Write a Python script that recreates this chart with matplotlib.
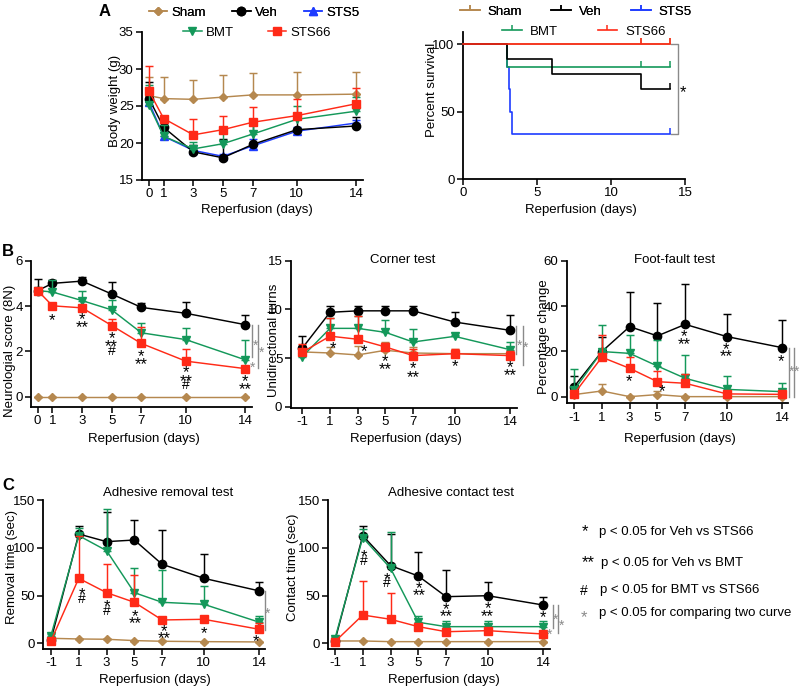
import matplotlib
matplotlib.use('Agg')
import matplotlib.pyplot as plt
from matplotlib.lines import Line2D
import numpy as np

plt.rcParams['font.family'] = ['Liberation Sans', 'DejaVu Sans']
plt.rcParams['font.size'] = 9
plt.rcParams['axes.unicode_minus'] = False

# ---------------- data ----------------
groups = ['Sham', 'Veh', 'STS5', 'BMT', 'STS66']

# Body weight (g), days 0..14 : mean and top of error bar
bw_days = [0, 1, 3, 5, 7, 10, 14]
bw_sham = [26.4, 26.0, 25.9, 26.2, 26.5, 26.5, 26.6]
bw_sham_top = [28.9, 28.9, 28.5, 29.2, 29.5, 29.6, 29.6]
bw_veh = [26.0, 22.1, 18.8, 18.0, 19.8, 21.8, 22.3]
bw_veh_top = [28.3, 23.6, 19.7, 20.5, 22.4, 23.8, 23.5]
bw_sts5 = [25.5, 20.9, 19.0, 18.2, 19.6, 21.6, 22.7]
bw_sts5_top = [27.1, 21.5, 19.5, 18.5, 20.6, 22.2, 23.1]
bw_bmt = [25.1, 20.9, 19.2, 19.9, 21.2, 23.2, 24.3]
bw_bmt_top = [27.8, 22.4, 20.1, 21.3, 22.4, 25.0, 26.2]
bw_sts66 = [27.0, 23.3, 21.1, 21.8, 22.8, 23.7, 25.3]
bw_sts66_top = [30.4, 23.5, 23.2, 23.7, 24.9, 25.9, 27.5]

# Survival (%)
sv_sham_t = [0, 14]; sv_sham_s = [100, 100]; sv_sham_c = [12, 14]
sv_veh_t = [0, 3, 6, 12, 14]; sv_veh_s = [100, 88.9, 77.8, 66.7, 66.7]; sv_veh_c = [14]
sv_sts5_t = [0, 3.0, 3.09, 3.18, 3.31, 14]; sv_sts5_s = [100, 83.3, 66.7, 50.0, 33.3, 33.3]; sv_sts5_c = [14]
sv_bmt_t = [0, 3, 14]; sv_bmt_s = [100, 83.3, 83.3]; sv_bmt_c = [12, 14]
sv_sts66_t = [0, 14]; sv_sts66_s = [100, 100]; sv_sts66_c = [12, 14]

# Neurological score (8N), days 0..14
ns_days = [0, 1, 3, 5, 7, 10, 14]
ns_sham = [0, 0, 0, 0, 0, 0, 0]
ns_veh = [4.68, 5.0, 5.1, 4.53, 3.94, 3.68, 3.18]
ns_veh_top = [5.18, 5.15, 5.3, 5.07, 4.14, 4.2, 3.6]
ns_bmt = [4.68, 4.62, 4.24, 3.83, 2.82, 2.52, 1.63]
ns_bmt_top = [4.68, 5.15, 4.66, 4.26, 3.26, 3.02, 2.5]
ns_sts66 = [4.68, 4.01, 3.92, 3.14, 2.35, 1.57, 1.24]
ns_sts66_top = [4.68, 4.05, 4.0, 3.45, 3.06, 2.1, 1.3]

# Corner test (unidirectional turns), days -1..14
bd_days = [-1, 1, 3, 5, 7, 10, 14]
ct_sham = [5.63, 5.52, 5.32, 5.8, 5.52, 5.45, 5.45]
ct_sham_top = [6.2, 6.1, 6.2, 6.6, 6.1, 5.9, 5.75]
ct_veh = [6.03, 9.7, 9.85, 9.85, 9.85, 8.7, 7.85]
ct_veh_top = [7.3, 10.3, 10.3, 10.3, 10.3, 9.7, 9.45]
ct_bmt = [5.15, 8.05, 8.05, 7.64, 6.65, 7.23, 5.86]
ct_bmt_top = [5.5, 9.1, 9.3, 8.95, 7.95, 7.4, 6.6]
ct_sts66 = [5.6, 7.25, 6.93, 6.14, 5.25, 5.45, 5.25]
ct_sts66_top = [6.4, 9.1, 9.3, 6.5, 5.9, 5.95, 5.7]

# Foot-fault test (percentage change)
ff_sham = [0.9, 2.5, 0.0, 0.9, 0.0, 0.0, 0.0]
ff_sham_top = [1.2, 5.6, 0.3, 2.5, 0.2, 0.2, 0.2]
ff_veh = [4.4, 19.9, 30.9, 26.8, 31.9, 26.5, 21.6]
ff_veh_top = [9.3, 26.5, 46.3, 41.2, 49.7, 36.3, 33.8]
ff_bmt = [2.9, 19.9, 19.1, 13.5, 8.1, 3.2, 2.2]
ff_bmt_top = [12.1, 31.6, 27.2, 25.0, 18.4, 9.1, 5.9]
ff_sts66 = [1.2, 17.4, 12.5, 6.6, 5.9, 1.2, 1.0]
ff_sts66_top = [1.5, 27.2, 17.6, 11.3, 10.0, 1.8, 1.5]

# Adhesive removal time (sec)
ar_sham = [5.2, 4.5, 4.2, 2.8, 2.1, 1.7, 1.4]
ar_veh = [3.5, 114.4, 106.4, 108.1, 82.7, 68.0, 54.8]
ar_veh_top = [6.3, 122.8, 137.0, 129.0, 118.6, 93.5, 64.5]
ar_bmt = [8.0, 112.7, 97.0, 53.0, 42.9, 40.8, 22.0]
ar_bmt_top = [9.8, 120.3, 140.2, 79.2, 76.7, 60.0, 29.0]
ar_sts66 = [2.4, 68.0, 53.0, 42.9, 24.4, 25.1, 14.6]
ar_sts66_top = [3.5, 112.3, 83.0, 71.5, 26.9, 26.9, 20.9]

# Adhesive contact time (sec)
ac_sham = [2.4, 2.4, 1.7, 1.7, 1.7, 1.7, 1.7]
ac_veh = [2.8, 112.7, 81.3, 70.4, 48.8, 49.8, 40.0]
ac_veh_top = [5.2, 122.8, 114.0, 95.9, 76.7, 63.8, 48.8]
ac_bmt = [4.9, 110.6, 78.5, 22.0, 17.4, 17.4, 17.4]
ac_bmt_top = [7.0, 119.6, 116.5, 29.0, 23.7, 23.7, 23.7]
ac_sts66 = [1.7, 29.6, 25.1, 17.4, 12.1, 13.2, 9.7]
ac_sts66_top = [2.5, 65.2, 53.0, 19.0, 13.5, 14.5, 11.0]

legend_notes = ['p < 0.05 for Veh vs STS66', 'p < 0.05 for Veh vs BMT',
                'p < 0.05 for BMT vs STS66', 'p < 0.05 for comparing two curve']
legend_syms = ['*', '**', '#', '*']

# ---------------- styling ----------------
W, H = 800, 689
fig = plt.figure(figsize=(8, 6.89), dpi=100)

COL = {'Sham': '#B5884F', 'Veh': '#000000', 'STS5': '#1E3CFF',
       'BMT': '#14985A', 'STS66': '#FF2A17'}
MK = {'Sham': ('D', 3.6), 'Veh': ('o', 6.0), 'STS5': ('^', 6.0),
      'BMT': ('v', 6.0), 'STS66': ('s', 5.4)}
GRAY = '#8A8A8A'
STAR = 12


def add_ax(l, t, r, b):
    return fig.add_axes([l / W, 1 - b / H, (r - l) / W, (b - t) / H])


def style(ax, xlim, ylim, xticks, yticks):
    ax.set_xlim(xlim)
    ax.set_ylim(ylim)
    for s in ['top', 'right']:
        ax.spines[s].set_visible(False)
    for s in ['left', 'bottom']:
        ax.spines[s].set_linewidth(1.3)
    ax.set_xticks(xticks)
    ax.set_yticks(yticks)
    ax.tick_params(direction='out', length=4, width=1.1, labelsize=9.5, pad=2)
    ax.patch.set_visible(False)


def labels(ax, xl, yl, xly, ylx, yly=0.5, xlx=0.5):
    ax.set_xlabel(xl, fontsize=9.5)
    ax.set_ylabel(yl, fontsize=9.5)
    ax.xaxis.set_label_coords(xlx, xly)
    ax.yaxis.set_label_coords(ylx, yly)
    ax.xaxis.label.set_va('center')
    ax.yaxis.label.set_va('center')
    ax.yaxis.label.set_ha('center')


def series(ax, x, y, top, name, z):
    y = np.asarray(y, float)
    if top is None:
        err = np.zeros_like(y)
    else:
        err = np.clip(np.asarray(top, float) - y, 0, None)
    m, ms = MK[name]
    cont = ax.errorbar(x, y, yerr=[np.zeros_like(err), err], color=COL[name],
                       marker=m, ms=ms, lw=1.05, capsize=2.6, elinewidth=1.05,
                       capthick=1.05, zorder=z, mec=COL[name])
    for art in cont.get_children():
        art.set_clip_on(False)


def mark(ax, x, y, s, color='black', size=STAR):
    off = 0.315 * size if '*' in s else 0.09 * 10
    ax.annotate(s, (x, y), xytext=(0, -off), textcoords='offset points', ha='center',
                va='center', fontsize=size if '*' in s else 10, color=color,
                annotation_clip=False, zorder=10)


def vline(ax, x, y0, y1):
    ax.plot([x, x], [y0, y1], color=GRAY, lw=1.0, clip_on=False, zorder=9)


def title(cx, cy, s):
    fig.text(cx / W, 1 - cy / H, s, ha='center', va='center', fontsize=9.5)


# ---------------- Panel A: body weight ----------------
ax = add_ax(142, 32, 363, 180)
style(ax, (-0.47, 14.47), (15, 35), bw_days, [15, 20, 25, 30, 35])
series(ax, bw_days, bw_sham, bw_sham_top, 'Sham', 3)
series(ax, bw_days, bw_sts5, bw_sts5_top, 'STS5', 4)
series(ax, bw_days, bw_veh, bw_veh_top, 'Veh', 5)
series(ax, bw_days, bw_bmt, bw_bmt_top, 'BMT', 6)
series(ax, bw_days, bw_sts66, bw_sts66_top, 'STS66', 7)
labels(ax, 'Reperfusion (days)', 'Body weight (g)', -0.2, -0.122, 0.534, 0.52)

def mk_handle(name):
    m, ms = MK[name]
    return Line2D([], [], color=COL[name], marker=m, ms=ms, lw=1.1)

leg1 = fig.legend([mk_handle(g) for g in ['Sham', 'Veh', 'STS5']], ['Sham', 'Veh', 'STS5'],
                  loc='center', bbox_to_anchor=(254 / W, 1 - 13 / H), ncol=3, frameon=False,
                  fontsize=9.5, handlelength=1.4, handletextpad=0.3, columnspacing=2.0,
                  borderpad=0, borderaxespad=0)
leg2 = fig.legend([mk_handle(g) for g in ['BMT', 'STS66']], ['BMT', 'STS66'],
                  loc='center', bbox_to_anchor=(257 / W, 1 - 33 / H), ncol=2, frameon=False,
                  fontsize=9.5, handlelength=1.4, handletextpad=0.3, columnspacing=2.6,
                  borderpad=0, borderaxespad=0)
fig.add_artist(leg1)

# ---------------- Panel A: survival ----------------
ax = add_ax(463, 32, 685, 179)
style(ax, (0, 15), (0, 109), [0, 5, 10, 15], [0, 50, 100])
surv = [('Sham', sv_sham_t, sv_sham_s, sv_sham_c),
        ('STS5', sv_sts5_t, sv_sts5_s, sv_sts5_c),
        ('BMT', sv_bmt_t, sv_bmt_s, sv_bmt_c),
        ('Veh', sv_veh_t, sv_veh_s, sv_veh_c),
        ('STS66', sv_sts66_t, sv_sts66_s, sv_sts66_c)]
for i, (g, t, s, c) in enumerate(surv):
    ax.step(t, s, where='post', color=COL[g], lw=1.2, zorder=3 + i, clip_on=False)
    cy = [s[-1]] * len(c)
    ax.plot(c, cy, ls='none', marker=2, ms=4, mew=1.1, color=COL[g], zorder=3 + i, clip_on=False)
ax.plot([14.03, 14.55, 14.55, 14.03], [100, 100, 33.3, 33.3], color=GRAY, lw=1.0,
        clip_on=False, zorder=9)
mark(ax, 14.86, 68, '*', size=12)
labels(ax, 'Reperfusion (days)', 'Percent survival', -0.211, -0.14, 0.605, 0.53)

def sv_handle(name):
    return Line2D([], [], color=COL[name], marker=2, ms=3.5, mew=1.1, lw=1.2)

leg3 = fig.legend([sv_handle(g) for g in ['Sham', 'Veh', 'STS5']], ['Sham', 'Veh', 'STS5'],
                  loc='center', bbox_to_anchor=(576 / W, 1 - 12 / H), ncol=3, frameon=False,
                  fontsize=9.5, handlelength=1.5, handletextpad=0.6, columnspacing=2.2,
                  borderpad=0, borderaxespad=0)
leg4 = fig.legend([sv_handle(g) for g in ['BMT', 'STS66']], ['BMT', 'STS66'],
                  loc='center', bbox_to_anchor=(584 / W, 1 - 32 / H), ncol=2, frameon=False,
                  fontsize=9.5, handlelength=1.5, handletextpad=0.6, columnspacing=3.0,
                  borderpad=0, borderaxespad=0)
fig.add_artist(leg3)

# ---------------- Panel B: neurological score ----------------
ax = add_ax(31, 260.7, 252, 406.7)
style(ax, (-0.45, 14.47), (-0.44, 6), ns_days, [0, 2, 4, 6])
series(ax, ns_days, ns_sham, None, 'Sham', 3)
series(ax, ns_days, ns_veh, ns_veh_top, 'Veh', 5)
series(ax, ns_days, ns_bmt, ns_bmt_top, 'BMT', 6)
series(ax, ns_days, ns_sts66, ns_sts66_top, 'STS66', 7)
for x, y, s in [(1, 3.6, '*'), (3, 3.65, '*'), (3, 3.28, '**'), (5, 2.8, '*'), (5, 2.43, '**'),
                (5, 2.06, '#'), (7, 1.99, '*'), (7, 1.65, '**'), (10, 1.28, '*'), (10, 0.91, '**'),
                (10, 0.56, '#'), (14, 0.88, '*'), (14, 0.55, '**')]:
    mark(ax, x, y, s)
vline(ax, 14.46, 3.17, 1.75)
vline(ax, 14.9, 3.17, 1.27)
mark(ax, 14.73, 2.43, '*', color=GRAY, size=10)
mark(ax, 15.14, 2.15, '*', color=GRAY, size=10)
mark(ax, 14.5, 1.45, '*', color=GRAY, size=10)
labels(ax, 'Reperfusion (days)', 'Neurologial score (8N)', -0.221, -0.095, 0.383, 0.51)

# ---------------- Panel B: corner test ----------------
ax = add_ax(290.7, 260.7, 516.7, 408)
style(ax, (-1.84, 14.48), (-0.13, 15), bd_days, [0, 5, 10, 15])
series(ax, bd_days, ct_sham, ct_sham_top, 'Sham', 3)
series(ax, bd_days, ct_veh, ct_veh_top, 'Veh', 5)
series(ax, bd_days, ct_bmt, ct_bmt_top, 'BMT', 6)
series(ax, bd_days, ct_sts66, ct_sts66_top, 'STS66', 7)
for x, y, s in [(1.2, 6.5, '*'), (3.45, 6.2, '*'), (5, 5.2, '*'), (5, 4.35, '**'),
                (7, 4.45, '*'), (7, 3.55, '**'), (10, 4.67, '*'), (14, 4.57, '*'), (14, 3.75, '**')]:
    mark(ax, x, y, s)
vline(ax, 14.43, 8.3, 5.4)
vline(ax, 14.91, 8.3, 4.3)
mark(ax, 14.67, 6.7, '*', color=GRAY, size=10)
mark(ax, 15.15, 6.55, '*', color=GRAY, size=10)
title(403, 260, 'Corner test')
labels(ax, 'Reperfusion (days)', 'Unidirectional turns', -0.21, -0.074, 0.46, 0.51)

# ---------------- Panel B: foot-fault ----------------
ax = add_ax(566.7, 260.7, 788, 403.3)
style(ax, (-1.53, 14.4), (-2.94, 60), bd_days, [0, 20, 40, 60])
series(ax, bd_days, ff_sham, ff_sham_top, 'Sham', 3)
series(ax, bd_days, ff_veh, ff_veh_top, 'Veh', 5)
series(ax, bd_days, ff_bmt, ff_bmt_top, 'BMT', 6)
series(ax, bd_days, ff_sts66, ff_sts66_top, 'STS66', 7)
for x, y, s in [(2.96, 9.1, '*'), (5.31, 4.4, '*'), (6.94, 28.7, '*'), (6.94, 25.3, '**'),
                (9.92, 23.2, '*'), (9.92, 19.9, '**'), (13.88, 17.6, '*')]:
    mark(ax, x, y, s)
vline(ax, 14.44, 21.6, 0)
vline(ax, 14.8, 21.6, 0)
mark(ax, 14.62, 13, '*', color=GRAY, size=10)
mark(ax, 14.98, 13, '*', color=GRAY, size=10)
title(675, 260, 'Foot-fault test')
labels(ax, 'Reperfusion (days)', 'Percentage change', -0.25, -0.103, 0.467, 0.51)

# ---------------- Panel C: adhesive removal ----------------
ax = add_ax(43.3, 500, 265, 649)
style(ax, (-1.55, 14.4), (-6, 150), bd_days, [0, 50, 100, 150])
series(ax, bd_days, ar_sham, None, 'Sham', 3)
series(ax, bd_days, ar_veh, ar_veh_top, 'Veh', 5)
series(ax, bd_days, ar_bmt, ar_bmt_top, 'BMT', 6)
series(ax, bd_days, ar_sts66, ar_sts66_top, 'STS66', 7)
for x, y, s in [(1.21, 56.5, '*'), (1.21, 47.8, '#'), (3.0, 43.6, '*'), (3.0, 34.9, '#'),
                (5.05, 33.8, '*'), (5.05, 26.2, '**'), (7.16, 18.1, '*'), (7.16, 10.5, '**'),
                (10.0, 15.7, '*'), (13.76, 7.0, '*')]:
    mark(ax, x, y, s)
vline(ax, 14.41, 55, 14)
mark(ax, 14.58, 35.6, '*', color=GRAY, size=10)
title(168, 493, 'Adhesive removal test')
labels(ax, 'Reperfusion (days)', 'Removal time (sec)', -0.208, -0.143, 0.552, 0.505)

# ---------------- Panel C: adhesive contact ----------------
ax = add_ax(328.3, 500, 550, 649)
style(ax, (-1.48, 14.48), (-6, 150), bd_days, [0, 50, 100, 150])
series(ax, bd_days, ac_sham, None, 'Sham', 3)
series(ax, bd_days, ac_veh, ac_veh_top, 'Veh', 5)
series(ax, bd_days, ac_bmt, ac_bmt_top, 'BMT', 6)
series(ax, bd_days, ac_sts66, ac_sts66_top, 'STS66', 7)
for x, y, s in [(1.11, 95.9, '*'), (1.11, 87.2, '#'), (2.75, 72.5, '*'), (2.75, 64.5, '#'),
                (5.05, 62.8, '*'), (5.05, 55.8, '**'), (6.99, 41.1, '*'), (6.99, 33.1, '**'),
                (9.99, 41.8, '*'), (9.99, 33.8, '**'), (13.95, 32.1, '*')]:
    mark(ax, x, y, s)
vline(ax, 14.67, 40, 16.5)
vline(ax, 15.08, 40, 10.5)
mark(ax, 14.85, 29.6, '*', color=GRAY, size=10)
mark(ax, 15.3, 22.6, '*', color=GRAY, size=10)
mark(ax, 14.45, 13.5, '*', color=GRAY, size=10)
title(451, 493, 'Adhesive contact test')
labels(ax, 'Reperfusion (days)', 'Contact time (sec)', -0.208, -0.158, 0.547, 0.52)

# ---------------- significance legend ----------------
sym_pos = [(585, 526), (588, 557), (584, 590.7), (584, 612.3)]
txt_pos = [(599, 531.7), (601, 563.3), (600, 590), (599, 613.3)]
sym_col = ['black', 'black', 'black', GRAY]
for (sx, sy), (tx, ty), sym, note, c in zip(sym_pos, txt_pos, legend_syms, legend_notes, sym_col):
    sz = STAR if '*' in sym else 10
    off = 0.315 * sz * 100 / 72 if '*' in sym else 0
    fig.text(sx / W, 1 - (sy + off) / H, sym, ha='center', va='center', fontsize=sz, color=c)
    fig.text(tx / W, 1 - ty / H, note, ha='left', va='center', fontsize=9.5)

# panel letters
fig.text(105 / W, 1 - 12 / H, 'A', fontsize=12, fontweight='bold', ha='center', va='center')
fig.text(8 / W, 1 - 252 / H, 'B', fontsize=12, fontweight='bold', ha='center', va='center')
fig.text(8 / W, 1 - 485 / H, 'C', fontsize=12, fontweight='bold', ha='center', va='center')

fig.savefig('out.png', dpi=100)
